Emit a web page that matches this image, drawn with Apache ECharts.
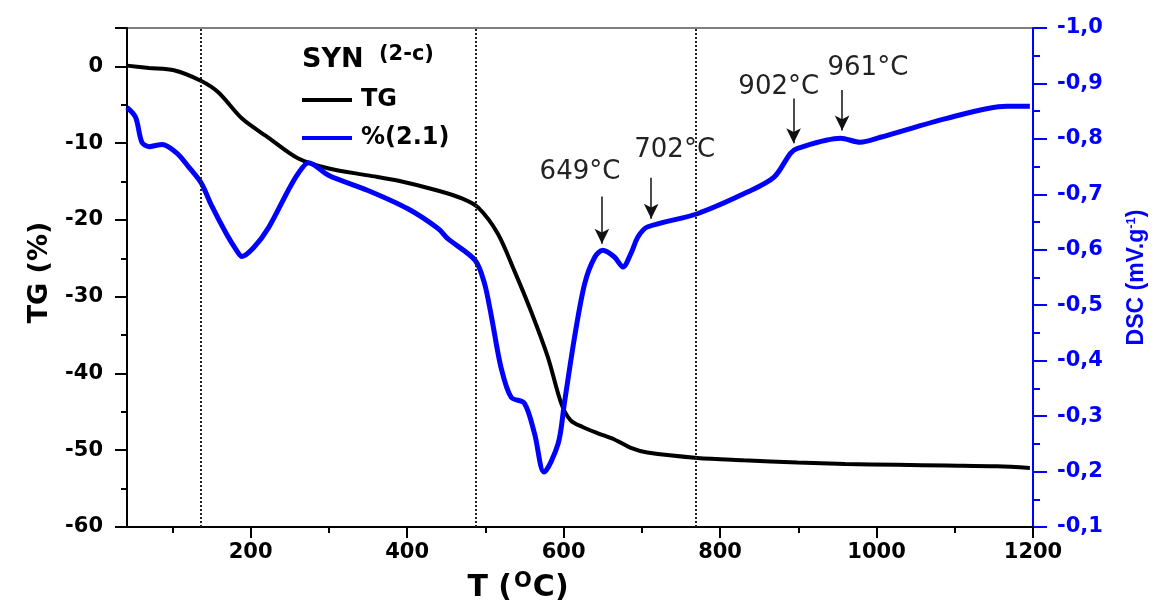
<!DOCTYPE html>
<html>
<head>
    <meta charset="utf-8"/>
    <title>TG / DSC</title>
    <script src="https://cdn.jsdelivr.net/npm/echarts@6/dist/echarts.min.js"></script>
    <style>
        html, body { margin: 0; padding: 0; background: #fff; }
    </style>
</head>
<body>
<div id="main" style="width: 1159px;height:609px;"></div>
<script type="text/javascript">
    // temperatures (°C) and TG (%)
    var tgTemp = [42, 70, 102, 137, 159, 189, 223, 261, 300, 350, 389, 440, 470, 491, 516, 537, 558, 580, 597, 609, 625, 644, 665, 686, 707, 771, 830, 899, 960, 1026, 1090, 1154, 1196];
    var tgVal = [0.1, -0.2, -0.5, -1.9, -3.4, -6.8, -9.3, -12.0, -13.3, -14.2, -14.9, -16.2, -17.2, -18.4, -21.8, -26.6, -31.8, -37.9, -43.9, -46.1, -47.0, -47.8, -48.6, -49.7, -50.3, -51.0, -51.3, -51.6, -51.8, -51.9, -52.0, -52.1, -52.3];

    // blue DSC curve (mV/g)
    var dscTemp = [42, 53, 61, 70, 87, 106, 121, 137, 150, 169, 182, 189, 204, 223, 248, 261, 274, 300, 350, 401, 440, 452, 487, 499, 508, 520, 533, 550, 563, 575, 593, 601, 614, 627, 640, 650, 665, 676, 686, 695, 707, 771, 835, 869, 890, 899, 954, 979, 1005, 1090, 1166, 1196];
    var dscVal = [-0.857, -0.839, -0.794, -0.786, -0.790, -0.774, -0.749, -0.720, -0.680, -0.629, -0.599, -0.588, -0.604, -0.640, -0.707, -0.738, -0.757, -0.734, -0.707, -0.674, -0.638, -0.620, -0.581, -0.539, -0.478, -0.388, -0.334, -0.323, -0.268, -0.199, -0.250, -0.323, -0.442, -0.539, -0.587, -0.599, -0.587, -0.569, -0.593, -0.623, -0.641, -0.665, -0.704, -0.731, -0.774, -0.783, -0.801, -0.794, -0.803, -0.837, -0.859, -0.859];

    // dotted step lines
    var stepTemps = [136, 488, 769];

    // peak labels: text, text position, arrow x, arrow top, arrow tip
    var peakNames = ['649°C', '702°C', '902°C', '961°C'];
    var peakTextT = [621, 742, 875, 989];
    var peakTextV = [-0.739, -0.779, -0.893, -0.927];
    var arrowT = [649, 712, 894, 956];
    var arrowFrom = [-0.696, -0.730, -0.873, -0.888];
    var arrowTo = [-0.611, -0.656, -0.792, -0.815];

    var xMajor = [200, 400, 600, 800, 1000, 1200];
    var xMinor = [100, 300, 500, 700, 900, 1100];

    function zip(a, b) {
        var out = [];
        for (var i = 0; i < a.length; i++) out.push([a[i], b[i]]);
        return out;
    }

    var myChart = echarts.init(document.getElementById('main'));
    var lblFont = 'DejaVu Sans';

    var arrows = [];
    var peakPts = [];
    for (var i = 0; i < peakNames.length; i++) {
        arrows.push([
            {coord: [arrowT[i], arrowFrom[i]], symbol: 'none'},
            {coord: [arrowT[i], arrowTo[i]], symbol: 'arrow'}
        ]);
        peakPts.push({name: peakNames[i], coord: [peakTextT[i], peakTextV[i]]});
    }

    var option = {
        animation: false,
        backgroundColor: '#fff',
        grid: {
            left: 127, right: 126, top: 28, bottom: 82,
            show: true, borderColor: '#000', borderWidth: 1
        },
        legend: {
            left: 297, top: 83, orient: 'vertical',
            itemWidth: 50, itemHeight: 4, itemGap: 14,
            textStyle: {fontFamily: lblFont, fontWeight: 'bold', fontSize: 24, color: '#000', lineHeight: 20, padding: [0, 0, 0, 4]},
            data: [{name: 'TG', icon: 'rect'}, {name: '%(2.1)', icon: 'rect'}]
        },
        graphic: [
            {type: 'text', x: 302, y: 60, style: {text: 'SYN', font: 'bold 27px "DejaVu Sans"', fill: '#000', verticalAlign: 'middle'}},
            {type: 'text', x: 379, y: 55, style: {text: '(2-c)', font: 'bold 21px "DejaVu Sans"', fill: '#000', verticalAlign: 'middle'}}
        ],
        xAxis: [{
            type: 'value', min: 42, max: 1200,
            name: '{a|T (}{b|O}{a|C)}',
            nameLocation: 'middle', nameGap: 44,
            nameTextStyle: {
                padding: [0, 124, 0, 0],
                rich: {
                    a: {fontFamily: lblFont, fontWeight: 'bold', fontSize: 30, color: '#000'},
                    b: {fontFamily: lblFont, fontWeight: 'bold', fontSize: 21, color: '#000', verticalAlign: 'top', padding: [0, 1, 14, 2]}
                }
            },
            axisLine: {onZero: false, lineStyle: {color: '#000', width: 2}},
            axisTick: {customValues: xMajor, length: 11, lineStyle: {width: 2}},
            axisLabel: {
                customValues: xMajor, margin: 15, fontFamily: lblFont, fontWeight: 'bold', fontSize: 21, color: '#000',
                formatter: function (v) { return String(v); }
            },
            splitLine: {show: false}
        }, {
            type: 'value', min: 42, max: 1200, position: 'bottom',
            axisLine: {show: false, onZero: false},
            axisTick: {customValues: xMinor, length: 6, lineStyle: {color: '#000', width: 2}},
            axisLabel: {show: false},
            splitLine: {show: false}
        }],
        yAxis: [{
            type: 'value', min: -60, max: 5, interval: 10,
            name: 'TG (%)', nameLocation: 'middle', nameGap: 74, nameRotate: 90,
            nameTextStyle: {fontFamily: lblFont, fontWeight: 'bold', fontSize: 27, color: '#000', padding: [0, 0, 0, 10]},
            axisLine: {show: true, onZero: false, lineStyle: {color: '#000', width: 2}},
            axisTick: {show: true, length: 12, lineStyle: {width: 2}},
            minorTick: {show: true, splitNumber: 2, length: 6, lineStyle: {color: '#000', width: 2}},
            axisLabel: {margin: 24, showMaxLabel: false, fontFamily: lblFont, fontWeight: 'bold', fontSize: 21, color: '#000'},
            splitLine: {show: false}
        }, {
            type: 'value', min: -1, max: -0.1, interval: 0.1, inverse: true,
            position: 'right',
            name: '{a|DSC (mV.g}{b|-1}{a|)}', nameLocation: 'middle', nameGap: 92, nameRotate: 90,
            nameTextStyle: {
                rich: {
                    a: {fontFamily: 'Liberation Sans', fontWeight: 'bold', fontSize: 23, color: '#0000ff'},
                    b: {fontFamily: 'Liberation Sans', fontWeight: 'bold', fontSize: 13, color: '#0000ff', verticalAlign: 'top', padding: [0, 0, 10, 0]}
                }
            },
            axisLine: {show: true, onZero: false, lineStyle: {color: '#0000ff', width: 2}},
            axisTick: {show: true, length: 14, lineStyle: {width: 2}},
            minorTick: {show: true, splitNumber: 2, length: 7, lineStyle: {color: '#0000ff', width: 2}},
            axisLabel: {
                margin: 24, fontFamily: lblFont, fontWeight: 'bold', fontSize: 21, color: '#0000ff',
                formatter: function (v) { return v.toFixed(1).replace('.', ','); }
            },
            splitLine: {show: false}
        }],
        series: [{
            name: 'TG', type: 'line', xAxisIndex: 0, yAxisIndex: 0,
            data: zip(tgTemp, tgVal),
            symbol: 'none', smooth: 0.3,
            lineStyle: {color: '#000', width: 4},
            itemStyle: {color: '#000'},
            markLine: {
                silent: true, symbol: 'none',
                label: {show: false},
                lineStyle: {color: '#222', width: 2, type: [2, 2]},
                data: stepTemps.map(function (t) { return {xAxis: t}; })
            }
        }, {
            name: '%(2.1)', type: 'line', xAxisIndex: 0, yAxisIndex: 1,
            data: zip(dscTemp, dscVal),
            symbol: 'none', smooth: 0.3,
            lineStyle: {color: '#0000ff', width: 5},
            itemStyle: {color: '#0000ff'},
            markLine: {
                silent: true, symbolSize: [11, 15],
                label: {show: false},
                lineStyle: {color: '#111', width: 1.5, type: 'solid'},
                data: arrows
            },
            markPoint: {
                silent: true, symbol: 'circle', symbolSize: 0,
                label: {
                    show: true, position: 'inside', formatter: '{b}',
                    fontFamily: lblFont, fontSize: 26, color: '#222'
                },
                data: peakPts
            }
        }]
    };
    myChart.setOption(option);
</script>
</body>
</html>
